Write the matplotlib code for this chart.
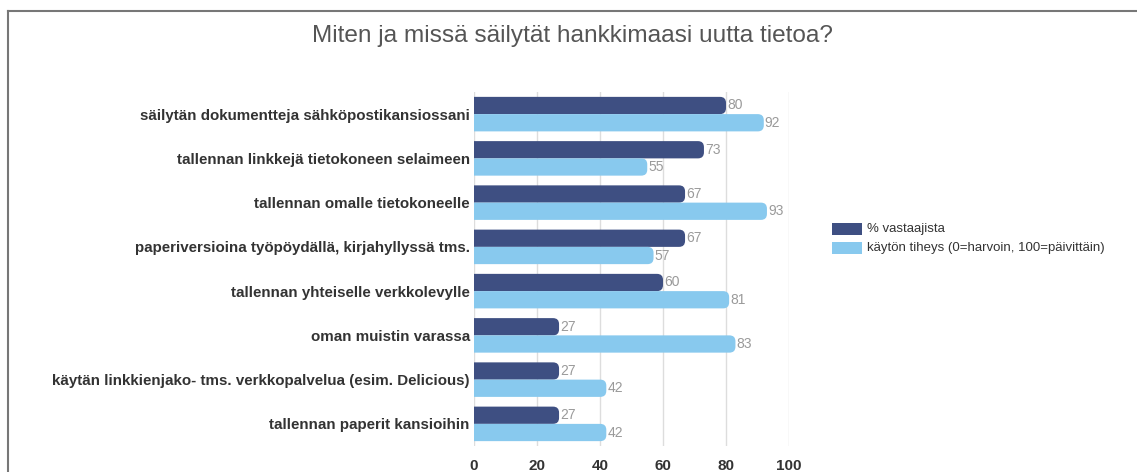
import matplotlib
matplotlib.use("Agg")
import matplotlib.pyplot as plt
from matplotlib.patches import PathPatch, Rectangle
from matplotlib.path import Path
from matplotlib.lines import Line2D

title = "Miten ja missä säilytät hankkimaasi uutta tietoa?"
categories = [
    "säilytän dokumentteja sähköpostikansiossani",
    "tallennan linkkejä tietokoneen selaimeen",
    "tallennan omalle tietokoneelle",
    "paperiversioina työpöydällä, kirjahyllyssä tms.",
    "tallennan yhteiselle verkkolevylle",
    "oman muistin varassa",
    "käytän linkkienjako- tms. verkkopalvelua (esim. Delicious)",
    "tallennan paperit kansioihin",
]
respondents = [80, 73, 67, 67, 60, 27, 27, 27]
frequency = [92, 55, 93, 57, 81, 83, 42, 42]
series_names = ["% vastaajista", "käytön tiheys (0=harvoin, 100=päivittäin)"]
xticks = [0, 20, 40, 60, 80, 100]

dark = "#3e4f82"
light = "#88c9ee"

plt.rcParams['font.family'] = ['Liberation Sans', 'DejaVu Sans']

fig = plt.figure(figsize=(11.37, 4.72), dpi=100)
ax = fig.add_axes([474/1137, 1-446/472, (789-474)/1137, (446-92)/472])

ax.set_xlim(0, 100)
ax.set_ylim(len(categories)-0.5, -0.5)

h = 0.39
off = 0.195
px_per_x = (789-474)/100
px_per_y = (446-92)/len(categories)
r_px = 6
rx = r_px/px_per_x
ry = r_px/px_per_y

def rbar(y, v, color):
    y0, y1 = y-h/2, y+h/2
    verts = [(0, y0), (v-rx, y0), (v, y0), (v, y0+ry), (v, y1-ry), (v, y1),
             (v-rx, y1), (0, y1), (0, y0)]
    codes = [Path.MOVETO, Path.LINETO, Path.CURVE3, Path.CURVE3, Path.LINETO,
             Path.CURVE3, Path.CURVE3, Path.LINETO, Path.CLOSEPOLY]
    ax.add_patch(PathPatch(Path(verts, codes), fc=color, ec='none', zorder=3))

for i, (a, b) in enumerate(zip(respondents, frequency)):
    rbar(i-off, a, dark)
    rbar(i+off, b, light)
    ax.text(a+0.3, i-off, str(a), va='center', ha='left', fontsize=10, color='#9a9a9a', zorder=4)
    ax.text(b+0.3, i+off, str(b), va='center', ha='left', fontsize=10, color='#9a9a9a', zorder=4)

ax.set_xticks(xticks)
ax.set_xticklabels([str(t) for t in xticks], fontsize=11, fontweight='bold', color='#333333')
ax.set_yticks(range(len(categories)))
ax.set_yticklabels(categories, fontsize=10.9, fontweight='bold', color='#333333')
ax.tick_params(axis='both', length=0)
ax.tick_params(axis='x', pad=9)
ax.tick_params(axis='y', pad=3)
ax.grid(axis='x', color='#dddddd', linewidth=1, zorder=0)
ax.set_axisbelow(True)
for s in ax.spines.values():
    s.set_visible(False)

fig.text(572/1137, 1-36/472, title, ha='center', va='center', fontsize=17.6, color='#555555')

# legend
lx, lw, lh = 832, 30, 12
for k, (name, col) in enumerate(zip(series_names, [dark, light])):
    cy = 229 + k*19
    fig.patches.append(Rectangle((lx/1137, 1-(cy+lh/2)/472), lw/1137, lh/472,
                                 transform=fig.transFigure, fc=col, ec='none'))
    fig.text(867/1137, 1-cy/472, name, ha='left', va='center', fontsize=9.5, color='#333333')

# frame
fig.add_artist(Line2D([7.5/1137, 7.5/1137], [0, 1-10.5/472], transform=fig.transFigure,
                      color='#777777', linewidth=1.5))
fig.add_artist(Line2D([7.5/1137, 1], [1-10.5/472, 1-10.5/472], transform=fig.transFigure,
                      color='#777777', linewidth=1.5))

fig.savefig("out.png", dpi=100)
